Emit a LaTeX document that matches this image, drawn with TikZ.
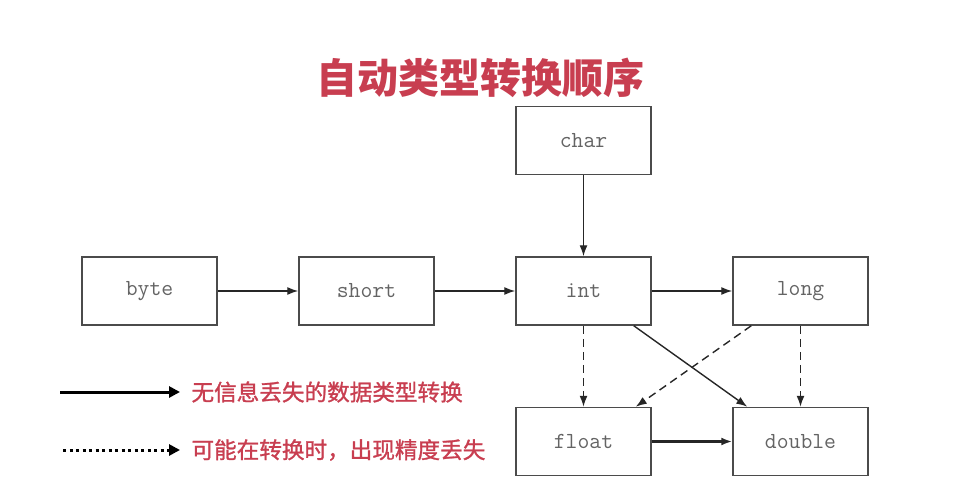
\documentclass[tikz,border=0pt]{standalone}
\usepackage{fontspec}
\newfontfamily\cjk{Noto Sans CJK SC}
\newfontfamily\cjkmed[FakeBold=1.2]{Noto Sans CJK SC}
\usetikzlibrary{arrows.meta}
\definecolor{titlered}{RGB}{200,62,80}
\definecolor{boxgray}{RGB}{75,75,75}
\definecolor{labelgray}{RGB}{100,100,100}
\tikzset{
    typebox/.style={draw=boxgray, line width=1.5pt, minimum width=135pt, minimum height=68pt,
        text=labelgray, font=\ttfamily\fontsize{23}{26}\selectfont},
    conv/.style={-{Latex[length=11pt,width=8pt]}, line width=1.4pt, draw=black!85},
    lossy/.style={conv, dash pattern=on 8pt off 5pt}
}
\begin{document}
\begin{tikzpicture}[x=1pt,y=1pt]
    \useasboundingbox (0,0) rectangle (963,496);

    \node[text=titlered, font=\cjk\bfseries\fontsize{41}{45}\selectfont] (title) at (480,418) {自动类型转换顺序};

    \node[typebox] (char) at (583.5,355.5) {char};
    \node[typebox] (byte) at (149.5,205) {byte};
    \node[typebox] (short) at (366.5,205) {short};
    \node[typebox] (int) at (583.5,205) {int};
    \node[typebox] (long) at (800.5,205) {long};
    \node[typebox] (float) at (583.5,54.5) {float};
    \node[typebox] (double) at (800.5,54.5) {double};

    \draw[conv] (char) -- (int);
    \draw[conv] (byte) -- (short);
    \draw[conv] (short) -- (int);
    \draw[conv] (int) -- (long);
    \draw[conv, line width=2.2pt] (float) -- (double);
    \draw[conv] ([xshift=-18pt]int.south east) -- ([xshift=15pt]double.north west);
    \draw[lossy] (int) -- (float);
    \draw[lossy] (long) -- (double);
    \draw[lossy] ([xshift=19pt]long.south west) -- ([xshift=-16pt]float.north east);

    % legend
    \coordinate (solidA) at (60,104);
    \coordinate (solidB) at (180,104);
    \coordinate (dotA) at (63,46);
    \coordinate (dotB) at (180,46);
    \draw[-{Triangle[length=11pt,width=11pt]}, line width=3pt] (solidA) -- (solidB);
    \draw[-{Triangle[length=11pt,width=11pt]}, line width=3pt, dash pattern=on 3pt off 3.5pt] (dotA) -- (dotB);
    \node[anchor=west, text=titlered, font=\cjkmed\fontsize{22.6}{26}\selectfont] (solidtext) at (188,104) {无信息丢失的数据类型转换};
    \node[anchor=west, text=titlered, font=\cjkmed\fontsize{22.6}{26}\selectfont] (dottext) at (188,46) {可能在转换时，出现精度丢失};
\end{tikzpicture}
\end{document}
